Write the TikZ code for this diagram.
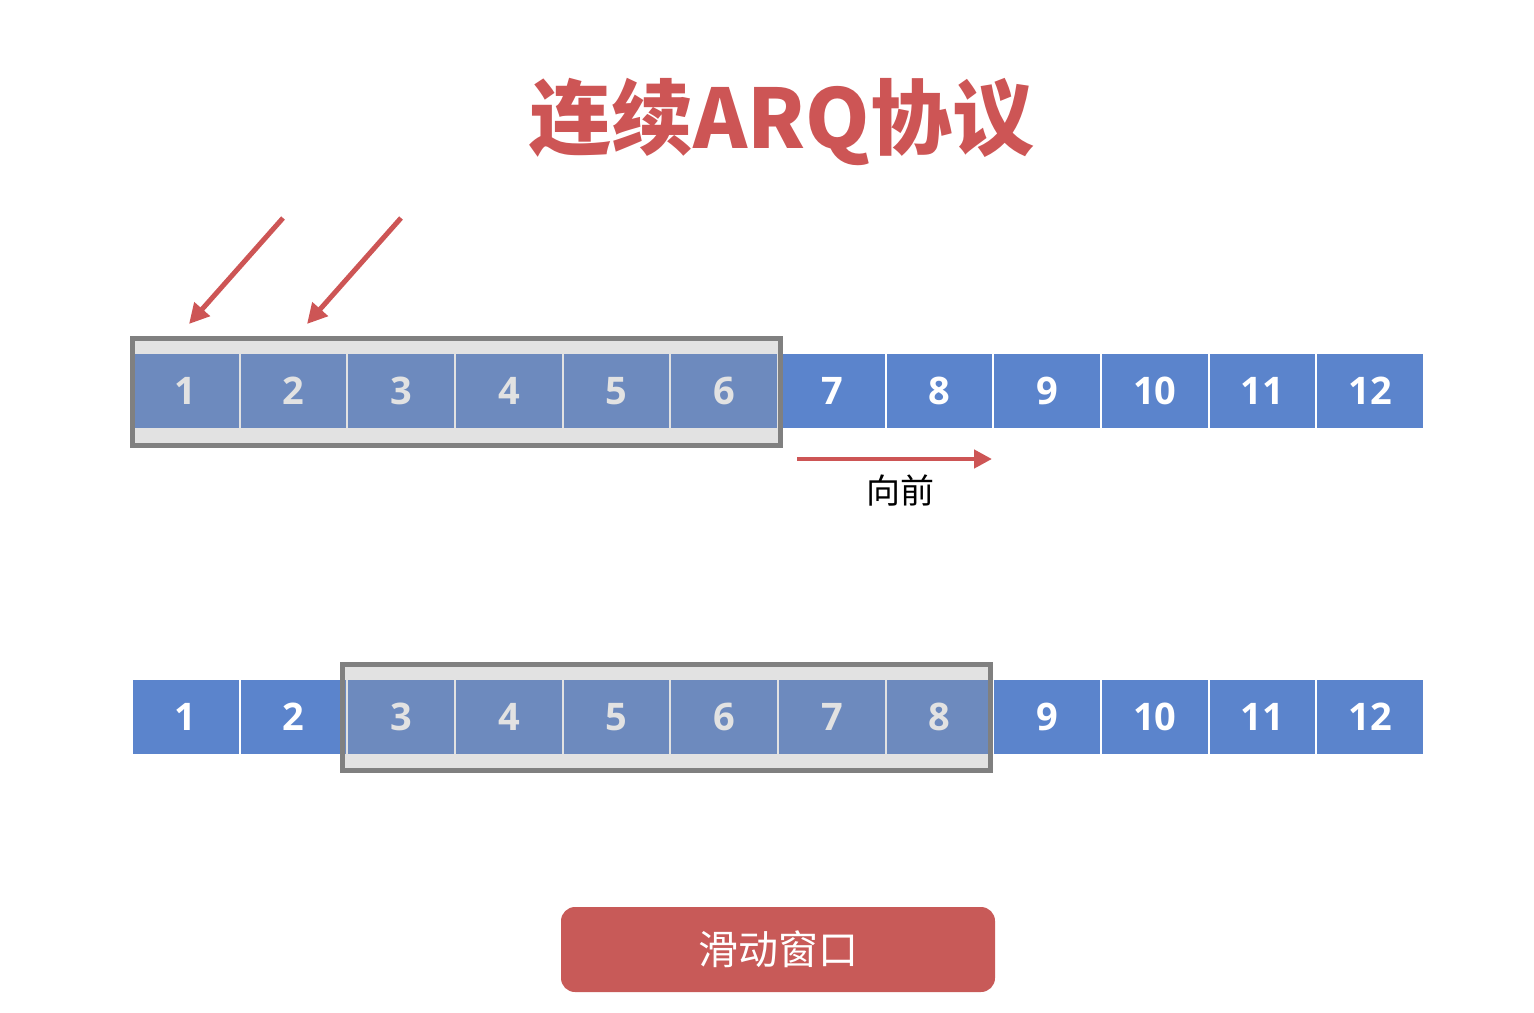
\documentclass[tikz,border=0pt]{standalone}
\usepackage{fontspec}
\usetikzlibrary{arrows.meta}
\newfontfamily\cjk{Noto Sans CJK SC}
\newfontfamily\numfont{Open Sans}
\definecolor{cellblue}{RGB}{91,132,204}
\definecolor{winfill}{RGB}{156,156,156}
\definecolor{winedge}{RGB}{128,128,128}
\definecolor{titlered}{RGB}{205,85,85}
\definecolor{btnred}{RGB}{200,90,88}
\tikzset{
  cell/.style={fill=cellblue, text=white, minimum width=52.85pt, minimum height=37pt,
    inner sep=0pt, font=\numfont\bfseries\fontsize{19}{19}\selectfont},
  win/.style={draw=winedge, line width=2.5pt, fill=winfill, fill opacity=0.29, draw opacity=1,
    text opacity=1, inner sep=0pt},
  redarrow/.style={draw=titlered, line width=2.5pt, -{Triangle[length=10pt,width=10pt]}},
}
\begin{document}
\begin{tikzpicture}[x=0.5pt,y=-0.5pt]
\useasboundingbox (0,0) rectangle (1534,1012);
\node[text=titlered, font=\cjk\bfseries\fontsize{41}{41}\selectfont, inner sep=0pt] (title) at (782,122) {连续ARQ协议};
% top row
\foreach \i in {1,...,12} {
  \node[cell] (t\i) at ({132+(\i-0.5)*107.67},391) {\i};
}
% bottom row
\foreach \i in {1,...,12} {
  \node[cell] (b\i) at ({132+(\i-0.5)*107.67},717) {\i};
}
% windows
\node[win, minimum width=324pt, minimum height=53.5pt] (w1) at (456.5,392) {};
\node[win, minimum width=324pt, minimum height=53pt] (w2) at (666.5,717.5) {};
% red arrows
\coordinate (a1s) at (283,218);
\coordinate (a1e) at (189,324);
\coordinate (a2s) at (401,218);
\coordinate (a2e) at (307,324);
\draw[redarrow] (a1s) -- (a1e);
\draw[redarrow] (a2s) -- (a2e);
% forward
\coordinate (fs) at (797,459);
\coordinate (fe) at (992,459);
\draw[redarrow, line width=2.2pt, -{Triangle[length=9pt,width=9pt]}] (fs) -- (fe);
\node[font=\cjk\fontsize{17}{17}\selectfont, inner sep=0pt] (fwd) at (900,490) {向前};
% button
\node[fill=btnred, rounded corners=7pt, minimum width=217pt, minimum height=42.5pt, inner sep=0pt,
  text=white, font=\cjk\fontsize{20}{20}\selectfont] (btn) at (778,949.5) {滑动窗口};
\end{tikzpicture}
\end{document}
